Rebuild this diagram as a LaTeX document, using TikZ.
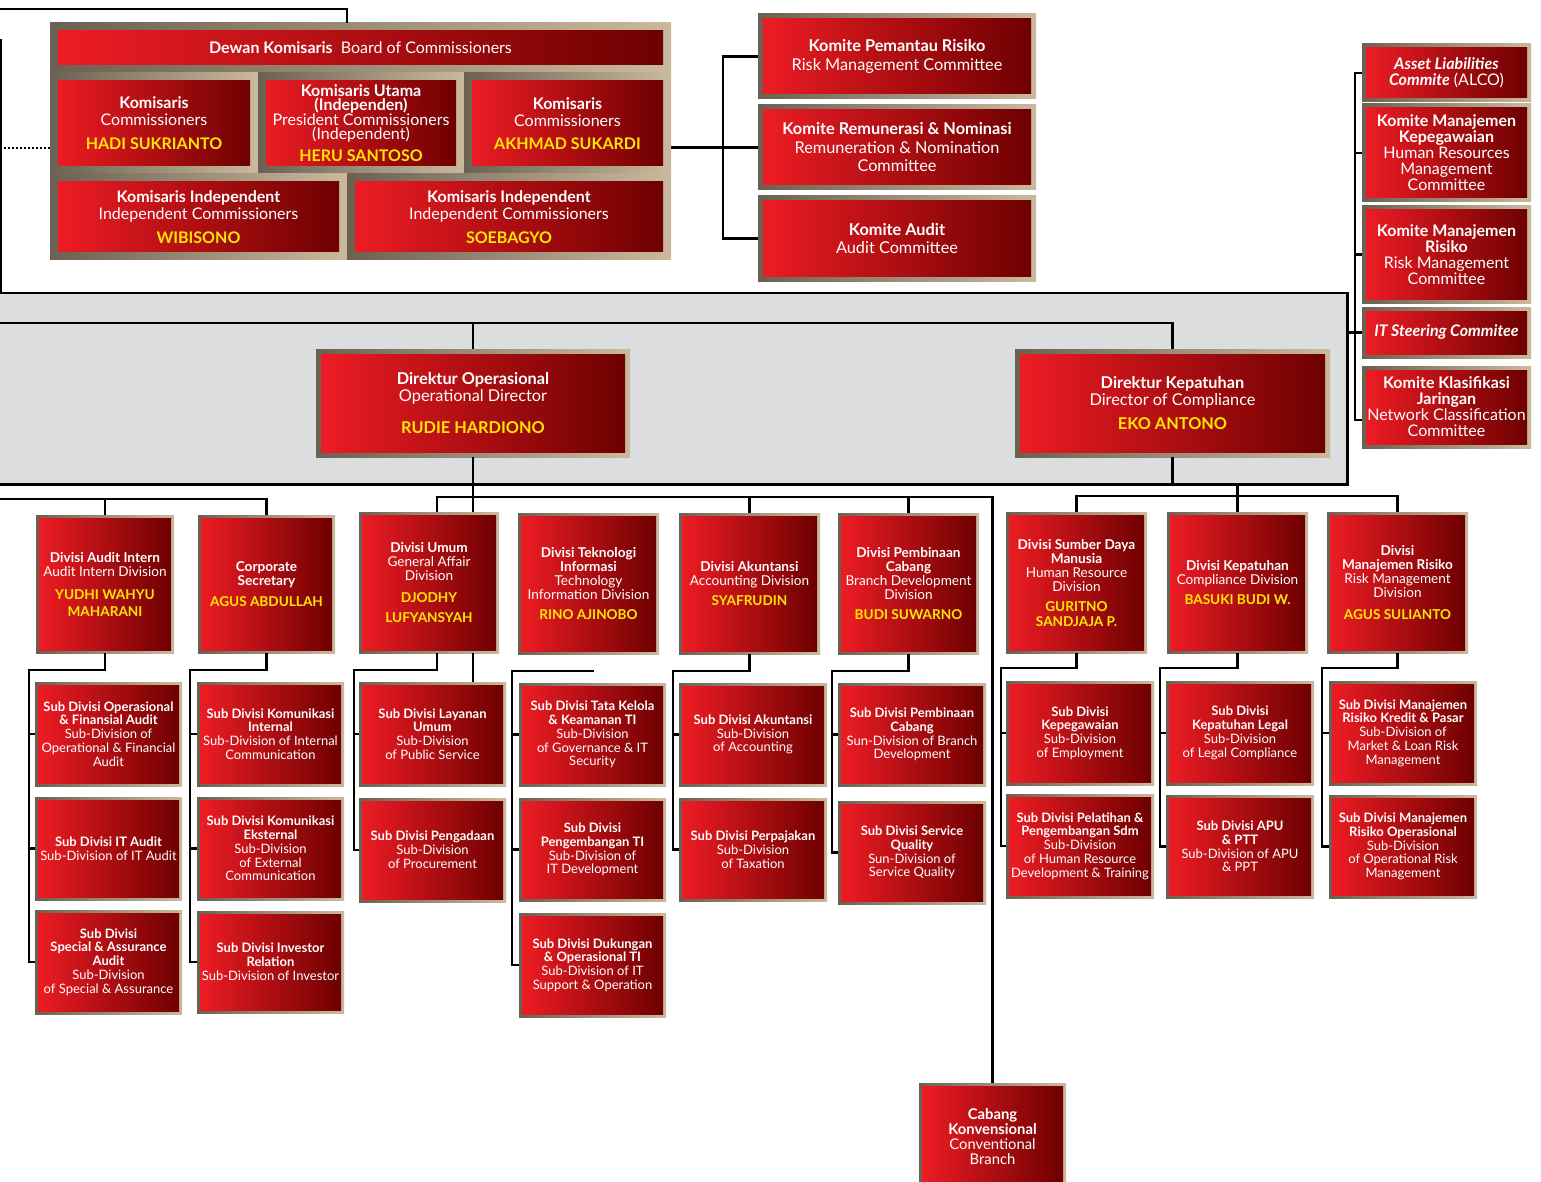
\documentclass[tikz,border=0pt]{standalone}
\usepackage{fontspec}
\setmainfont{Lato}
\usetikzlibrary{calc}

\definecolor{redL}{HTML}{ED1C24}
\definecolor{redR}{HTML}{6E0000}
\definecolor{frL}{HTML}{6B6152}
\definecolor{frR}{HTML}{CBB99D}
\definecolor{mgmtgray}{HTML}{DCDDDF}
\definecolor{nameyel}{HTML}{FFE600}

\newcommand\nm[1]{{\color{nameyel}\bfseries #1}}

\tikzset{
  frameinset/.code={\def\bxin{#1}},
  frameinset=3,
  orgbox/.style={rectangle, inner sep=0pt, align=center, text=white,
    path picture={
      \shade[left color=frL, right color=frR]
        (path picture bounding box.south west) rectangle (path picture bounding box.north east);
      \shade[left color=redL, right color=redR]
        ([xshift=\bxin pt,yshift=-\bxin pt]path picture bounding box.north west) rectangle
        ([xshift=-\bxin pt,yshift=\bxin pt]path picture bounding box.south east);
    }},
  bigtxt/.style={font=\fontsize{16}{17}\selectfont},
  comtxt/.style={font=\fontsize{16.3}{18.5}\selectfont},
  dirtxt/.style={font=\fontsize{16.3}{16.5}\selectfont},
  coltxt/.style={font=\fontsize{16}{16}\selectfont},
  divtxt/.style={font=\fontsize{13.6}{14.2}\selectfont},
  subtxt/.style={font=\fontsize{13}{13.8}\selectfont},
  orgline/.style={draw=black, line width=2.4pt},
  dotconn/.style={draw=black, line width=2pt, dash pattern=on 2pt off 2pt},
}

% box given by its frame corners (x1,y1) (x2,y2), y downwards
\newcommand\obox[7][]{%
  \pgfmathsetmacro\bxcx{(#3+#5)/2}%
  \pgfmathsetmacro\bxcy{(#4+#6)/2}%
  \pgfmathsetmacro\bxw{#5-#3}%
  \pgfmathsetmacro\bxh{#6-#4}%
  \node[orgbox, minimum width=\bxw pt, minimum height=\bxh pt, #1] (#2) at (\bxcx,\bxcy) {#7};%
}

\begin{document}
\begin{tikzpicture}[x=1pt, y=-1pt]
\useasboundingbox (0,0) rectangle (1541,1182);

% management band
\node[fill=mgmtgray, minimum width=1347pt, minimum height=191pt, inner sep=0pt, anchor=north west] (mgmt) at (0,293) {};

% board of commissioners
\obox[frameinset=8, bigtxt]{panDewan}{50}{23}{671}{73}{\textbf{Dewan Komisaris}\ \ Board of Commissioners}
\obox[frameinset=8, bigtxt]{panA}{50}{73}{258}{174}{\textbf{Komisaris}\\Commissioners\\[7pt]\nm{HADI SUKRIANTO}}
\obox[frameinset=8, font=\fontsize{16}{13.5}\selectfont]{panB}{258}{73}{464}{174}{\textbf{Komisaris Utama}\\\textbf{(Independen)}\\President Commissioners\\(Independent)\\[7pt]\nm{HERU SANTOSO}}
\obox[frameinset=8, bigtxt]{panC}{464}{73}{671}{174}{\textbf{Komisaris}\\Commissioners\\[6pt]\nm{AKHMAD SUKARDI}}
\obox[frameinset=8, bigtxt]{panD}{50}{174}{347}{260}{\textbf{Komisaris Independent}\\Independent Commissioners\\[7pt]\nm{WIBISONO}}
\obox[frameinset=8, bigtxt]{panE}{347}{174}{671}{260}{\textbf{Komisaris Independent}\\Independent Commissioners\\[7pt]\nm{SOEBAGYO}}

% board committees
\obox[frameinset=5, comtxt]{kom1}{758}{14}{1036}{99}{\textbf{Komite Pemantau Risiko}\\Risk Management Committee}
\obox[frameinset=5, comtxt]{kom2}{758}{105}{1036}{190}{\textbf{Komite Remunerasi \& Nominasi}\\Remuneration \& Nomination\\Committee}
\obox[frameinset=5, comtxt]{kom3}{758}{196}{1036}{281}{\textbf{Komite Audit}\\Audit Committee}

% executive committees
\obox[frameinset=4, coltxt]{alco}{1362}{44}{1531}{102}{\textbf{\itshape Asset Liabilities}\\\textbf{\itshape Commite} (ALCO)}
\obox[frameinset=4, coltxt]{kmk}{1362}{104}{1531}{202}{\textbf{Komite Manajemen}\\\textbf{Kepegawaian}\\Human Resources\\Management\\Committee}
\obox[frameinset=4, coltxt]{kmr}{1362}{206}{1531}{303}{\textbf{Komite Manajemen}\\\textbf{Risiko}\\Risk Management\\Committee}
\obox[frameinset=4, coltxt]{itsc}{1362}{307}{1531}{358}{\textbf{\itshape IT Steering Commitee}}
\obox[frameinset=4, coltxt]{kkj}{1362}{366}{1531}{448}{\textbf{Komite Klasifikasi}\\\textbf{Jaringan}\\Network Classification\\Committee}

% directors
\obox[frameinset=5, dirtxt]{dirOp}{316}{349}{630}{457}{\textbf{Direktur Operasional}\\Operational Director\\[15.5pt]\nm{RUDIE HARDIONO}}
\obox[frameinset=5, dirtxt]{dirKep}{1015}{349}{1330}{457}{\textbf{Direktur Kepatuhan}\\Director of Compliance\\[7.5pt]\nm{EKO ANTONO}}

% divisions
\obox[divtxt]{dAud}{36}{515}{174}{653}{\textbf{Divisi Audit Intern}\\Audit Intern Division\\[9pt]\nm{YUDHI WAHYU}\\[2.5pt]\nm{MAHARANI}}
\obox[divtxt]{dCorp}{198}{515}{335}{653}{\textbf{Corporate}\\\textbf{Secretary}\\[6.5pt]\nm{AGUS ABDULLAH}}
\obox[divtxt]{dUmum}{359}{512}{499}{653}{\textbf{Divisi Umum}\\General Affair\\Division\\[7pt]\nm{DJODHY}\\[6pt]\nm{LUFYANSYAH}}
\obox[divtxt]{dTI}{518}{513}{659}{654}{\textbf{Divisi Teknologi}\\\textbf{Informasi}\\Technology\\Information Division\\[5.5pt]\nm{RINO AJINOBO}}
\obox[divtxt]{dAk}{679}{513}{820}{654}{\textbf{Divisi Akuntansi}\\Accounting Division\\[6.5pt]\nm{SYAFRUDIN}}
\obox[divtxt]{dPemb}{838}{513}{979}{654}{\textbf{Divisi Pembinaan}\\\textbf{Cabang}\\Branch Development\\Division\\[5.5pt]\nm{BUDI SUWARNO}}
\obox[divtxt]{dSDM}{1006}{512}{1147}{653}{\textbf{Divisi Sumber Daya}\\\textbf{Manusia}\\Human Resource\\Division\\[6pt]\nm{GURITNO}\\\nm{SANDJAJA P.}}
\obox[divtxt]{dKep}{1167}{512}{1308}{653}{\textbf{Divisi Kepatuhan}\\Compliance Division\\[6pt]\nm{BASUKI BUDI W.}}
\obox[divtxt]{dMR}{1327}{512}{1468}{653}{\textbf{Divisi}\\\textbf{Manajemen Risiko}\\Risk Management\\Division\\[8pt]\nm{AGUS SULIANTO}}

% sub-divisions
\obox[subtxt]{sAud1}{35}{682}{182}{786}{\textbf{Sub Divisi Operasional}\\\textbf{\& Finansial Audit}\\Sub-Division of\\Operational \& Financial\\Audit}
\obox[subtxt]{sAud2}{35}{797}{182}{900}{\textbf{Sub Divisi IT Audit}\\Sub-Division of IT Audit}
\obox[subtxt]{sAud3}{35}{910}{182}{1014}{\textbf{Sub Divisi}\\\textbf{Special \& Assurance}\\\textbf{Audit}\\Sub-Division\\of Special \& Assurance}
\obox[subtxt]{sCorp1}{197}{682}{344}{786}{\textbf{Sub Divisi Komunikasi}\\\textbf{Internal}\\Sub-Division of Internal\\Communication}
\obox[subtxt]{sCorp2}{197}{797}{344}{900}{\textbf{Sub Divisi Komunikasi}\\\textbf{Eksternal}\\Sub-Division\\of External\\Communication}
\obox[subtxt]{sCorp3}{197}{911}{344}{1013}{\textbf{Sub Divisi Investor}\\\textbf{Relation}\\Sub-Division of Investor}
\obox[subtxt]{sUm1}{359}{682}{506}{786}{\textbf{Sub Divisi Layanan}\\\textbf{Umum}\\Sub-Division\\of Public Service}
\obox[subtxt]{sUm2}{359}{798}{506}{902}{\textbf{Sub Divisi Pengadaan}\\Sub-Division\\of Procurement}
\obox[subtxt]{sTI1}{519}{683}{666}{786}{\textbf{Sub Divisi Tata Kelola}\\\textbf{\& Keamanan TI}\\Sub-Division\\of Governance \& IT\\Security}
\obox[subtxt]{sTI2}{519}{798}{666}{901}{\textbf{Sub Divisi}\\\textbf{Pengembangan TI}\\Sub-Division of\\IT Development}
\obox[subtxt]{sTI3}{519}{913}{666}{1017}{\textbf{Sub Divisi Dukungan}\\\textbf{\& Operasional TI}\\Sub-Division of IT\\Support \& Operation}
\obox[subtxt]{sAk1}{679}{683}{827}{786}{\textbf{Sub Divisi Akuntansi}\\Sub-Division\\of Accounting}
\obox[subtxt]{sAk2}{679}{798}{827}{901}{\textbf{Sub Divisi Perpajakan}\\Sub-Division\\of Taxation}
\obox[subtxt]{sPb1}{838}{683}{986}{786}{\textbf{Sub Divisi Pembinaan}\\\textbf{Cabang}\\Sun-Division of Branch\\Development}
\obox[subtxt]{sPb2}{838}{801}{986}{904}{\textbf{Sub Divisi Service}\\\textbf{Quality}\\Sun-Division of\\Service Quality}
\obox[subtxt]{sSDM1}{1006}{681}{1154}{785}{\textbf{Sub Divisi}\\\textbf{Kepegawaian}\\Sub-Division\\of Employment}
\obox[subtxt]{sSDM2}{1006}{794}{1154}{898}{\textbf{Sub Divisi Pelatihan \&}\\\textbf{Pengembangan Sdm}\\Sub-Division\\of Human Resource\\Development \& Training}
\obox[subtxt]{sKep1}{1166}{681}{1314}{785}{\textbf{Sub Divisi}\\\textbf{Kepatuhan Legal}\\Sub-Division\\of Legal Compliance}
\obox[subtxt]{sKep2}{1166}{795}{1314}{898}{\textbf{Sub Divisi APU}\\\textbf{\& PTT}\\Sub-Division of APU\\\& PPT}
\obox[subtxt]{sMR1}{1329}{681}{1477}{785}{\textbf{Sub Divisi Manajemen}\\\textbf{Risiko Kredit \& Pasar}\\Sub-Division of\\Market \& Loan Risk\\Management}
\obox[subtxt]{sMR2}{1329}{795}{1477}{898}{\textbf{Sub Divisi Manajemen}\\\textbf{Risiko Operasional}\\Sub-Division\\of Operational Risk\\Management}

% branch
\obox[font=\fontsize{14.8}{14.8}\selectfont]{cabang}{919}{1083}{1066}{1190}{\textbf{Cabang}\\\textbf{Konvensional}\\Conventional\\Branch}

% free ends of lines that continue beyond the sheet
\coordinate (tl0) at (0,9);
\coordinate (lv0) at (1,39);
\coordinate (dl0) at (0,148);
\coordinate (dl1) at (0,323);
\coordinate (dl2) at (0,499);
\coordinate (tiEnd) at (594,671);

% band outline
\draw[orgline] (mgmt.north west) -- (mgmt.north east) -- (mgmt.south east) -- (mgmt.south west);

% board links
\draw[orgline] (tl0) -| (panE.north west |- panDewan.north);
\draw[orgline] (lv0) -- (lv0 |- mgmt.north);
\draw[dotconn] (dl0) -- (dl0 -| panA.west);
\draw[orgline] (panC.east |- kom2.west) -- (kom2.west);
\draw[orgline] (kom1.west) -- ++(-35,0) |- (kom3.west);

% executive committee links
\draw[orgline] (alco.west) -- ++(-7,0) |- ([yshift=-13pt]kkj.west);
\foreach \n in {kmk,kmr,itsc} \draw[orgline] (\n.west) -- ++(-7,0);
\draw[orgline] (mgmt.east |- itsc.west) -- ++(8,0);

% directors
\draw[orgline] (dirOp.north) -- (dirOp.north |- dl1);
\draw[orgline] (dl1) -| (dirKep.north);
\draw[orgline] (dirOp.south) -- (dirOp.south |- dUmum.north);
\draw[orgline] (dirKep.south) -- (dirKep.south |- mgmt.south);

% divisions
\draw[orgline] (dl2) -| (dCorp.north);
\draw[orgline] (dAud.north) -- ++(0,-16);
\draw[orgline] ([xshift=8pt]dUmum.north) -- ++(0,-15) -| (cabang.north);
\draw[orgline] (dAk.north) -- ++(0,-16);
\draw[orgline] (dPemb.north) -- ++(0,-16);
\draw[orgline] (dKep.north) -- (dKep.north |- mgmt.south);
\draw[orgline] (dSDM.north) -- ++(0,-16) -| (dMR.north);

% sub-division rails
\draw[orgline] (dAud.south) -- ++(0,17) -| ([xshift=-6pt]sAud3.west) -- (sAud3.west);
\foreach \s in {sAud1,sAud2} \draw[orgline] (\s.west) -- ++(-6,0);
\draw[orgline] (dCorp.south) -- ++(0,17) -| ([xshift=-7pt]sCorp3.west) -- (sCorp3.west);
\foreach \s in {sCorp1,sCorp2} \draw[orgline] (\s.west) -- ++(-7,0);
\draw[orgline] ([xshift=8pt]dUmum.south) -- ++(0,17) -| ([xshift=-5pt]sUm2.west) -- (sUm2.west);
\draw[orgline] (sUm1.west) -- ++(-5,0);
\draw[orgline] (dirOp.south |- dUmum.south) -- (dirOp.south |- sUm1.north);
\draw[orgline] (tiEnd) -| ([xshift=-7pt]sTI3.west) -- (sTI3.west);
\foreach \s in {sTI1,sTI2} \draw[orgline] (\s.west) -- ++(-7,0);
\draw[orgline] (dAk.south) -- ++(0,17) -| ([xshift=-6pt]sAk2.west) -- (sAk2.west);
\draw[orgline] (sAk1.west) -- ++(-6,0);
\draw[orgline] (dPemb.south) -- ++(0,17) -| ([xshift=-6pt]sPb2.west) -- (sPb2.west);
\draw[orgline] (sPb1.west) -- ++(-6,0);
\draw[orgline] (dSDM.south) -- ++(0,15) -| ([xshift=-5pt]sSDM2.west) -- (sSDM2.west);
\draw[orgline] (sSDM1.west) -- ++(-5,0);
\draw[orgline] (dKep.south) -- ++(0,15) -| ([xshift=-6pt]sKep2.west) -- (sKep2.west);
\draw[orgline] (sKep1.west) -- ++(-6,0);
\draw[orgline] (dMR.south) -- ++(0,15) -| ([xshift=-7pt]sMR2.west) -- (sMR2.west);
\draw[orgline] (sMR1.west) -- ++(-7,0);
\end{tikzpicture}
\end{document}
